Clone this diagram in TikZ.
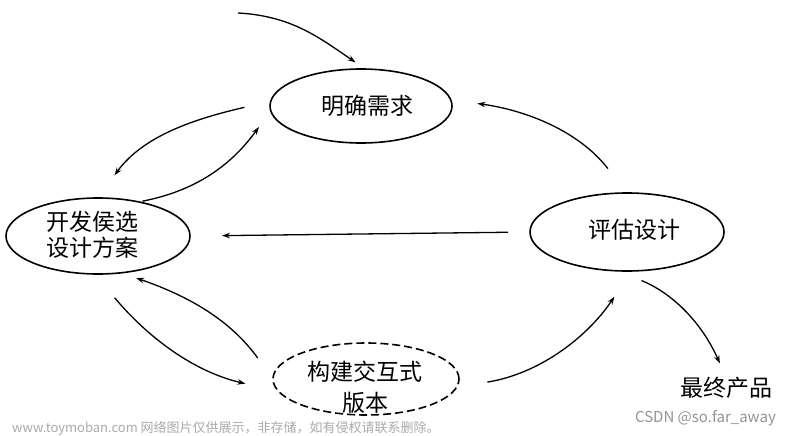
\documentclass[tikz,border=0pt]{standalone}
\usepackage{fontspec}
\setmainfont{Noto Sans CJK SC}
\usetikzlibrary{shapes.geometric,arrows.meta}
\begin{document}
\begin{tikzpicture}[x=1pt,y=1pt,
  oval/.style={draw, ellipse, line width=1.6pt, inner sep=0pt, outer sep=0pt},
  lbl/.style={inner sep=0pt, align=center, font=\fontsize{23}{27}\selectfont},
  arr/.style={line width=1.3pt, -{Stealth[length=8pt,width=5.5pt]}},
  wm/.style={inner sep=0pt}]
\fill[white] (0,0) rectangle (792,-436);
\useasboundingbox (0,0) rectangle (792,-436);
\node[oval, minimum width=182pt, minimum height=74pt,
  label={[lbl, xshift=6pt]center:明确需求}] (m) at (361,-106) {};
\node[oval, minimum width=184pt, minimum height=76pt,
  label={[lbl, font=\fontsize{23}{26}\selectfont, xshift=-6pt, yshift=1pt]center:开发侯选\\设计方案}] (d) at (98,-236) {};
\node[oval, minimum width=194pt, minimum height=78pt,
  label={[lbl, xshift=7pt, yshift=2pt]center:评估设计}] (e) at (627,-232) {};
\node[oval, dash pattern=on 8pt off 4pt, minimum width=186pt, minimum height=72pt,
  label={[lbl, font=\fontsize{23}{31}\selectfont, xshift=-1pt, yshift=-8pt]center:构建交互式\\版本}] (b) at (366,-379) {};
\node[lbl] (f) at (726,-388) {最终产品};
\coordinate (s0) at (238,-13);
\draw[arr, shorten >=12pt] (s0) to[out=-3,in=146] (m.83);
\draw[arr, shorten <=27pt, shorten >=28pt] (m.177) to[out=193,in=54] (d.90);
\draw[arr, shorten <=4pt, shorten >=20pt] (d.40) to[out=11,in=234] (m.183);
\draw[arr, shorten <=31pt, shorten >=27pt] (e.90) to[out=128,in=-8] (m.4);
\draw[arr, shorten <=22pt, shorten >=32pt] (e.west) -- (d.east);
\draw[arr, shorten <=31pt, shorten >=34pt] (d.265) to[out=-50,in=167] (b.188);
\draw[arr, shorten <=26pt, shorten >=16pt] (b.180) to[out=126,in=-19] (d.302);
\draw[arr, shorten <=31pt, shorten >=31pt] (b.355) to[out=9,in=236] (e.277);
\draw[arr, shorten <=26pt, shorten >=15pt] (e.256) to[out=-22,in=114] (f.north);
\node[wm, anchor=west, text=black!33, font=\fontsize{13}{13}\selectfont] (w1) at (12,-428) {www.toymoban.com 网络图片仅供展示，非存储，如有侵权请联系删除。};
\node[wm, anchor=east, text=black!42, font=\fontsize{15}{15}\selectfont] (w2) at (776,-418) {CSDN @so.far\_away};
\end{tikzpicture}
\end{document}
